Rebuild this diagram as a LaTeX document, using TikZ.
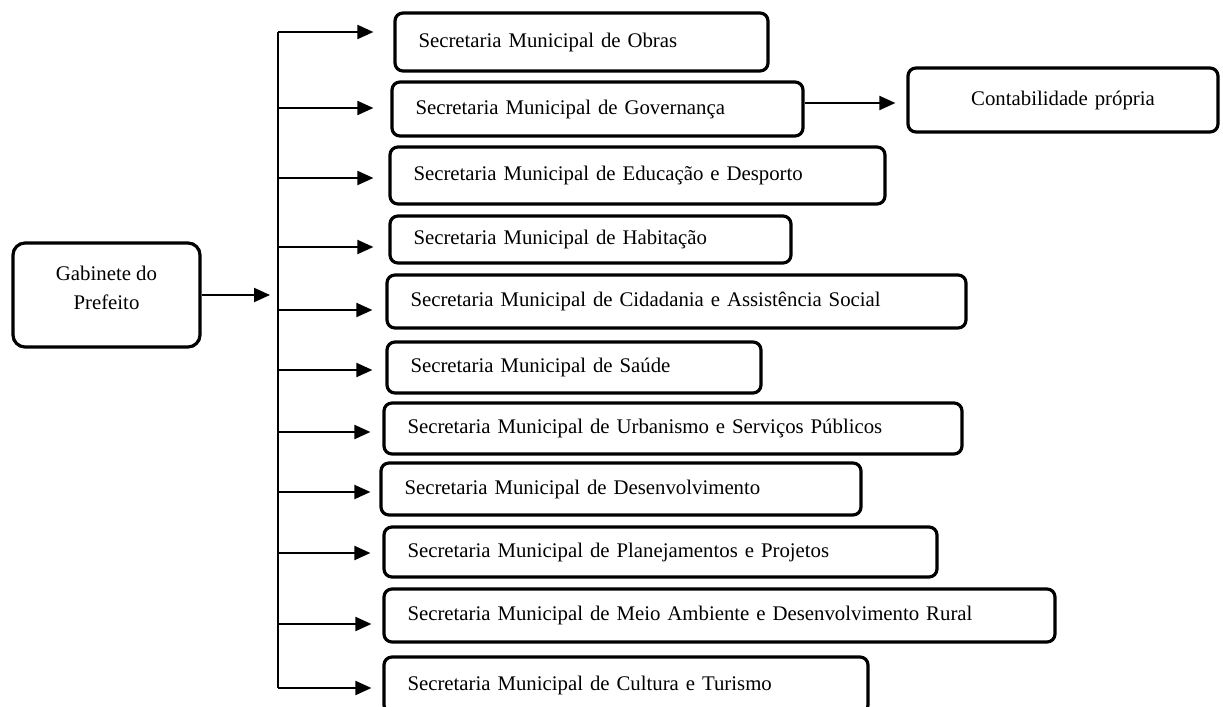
\documentclass[tikz,border=0pt]{standalone}
\usepackage{fontspec}
\setmainfont{Liberation Serif}
\usetikzlibrary{arrows.meta}
\tikzset{
  sec/.style={draw, rounded corners=4pt, line width=1.6pt, inner xsep=11.75pt, inner ysep=0pt, align=left},
  arr/.style={line width=1pt, -{Triangle[length=8pt,width=7pt]}}
}
\begin{document}
\begin{tikzpicture}[x=0.5pt,y=-0.5pt,font=\fontsize{10.4}{14.5}\selectfont]
		\useasboundingbox (0,0) rectangle (1223,707);
		\node[draw, rounded corners=6pt, line width=1.6pt, align=center, minimum width=93.5pt, minimum height=52pt] (gab) at (106.5,295) {Gabinete do\\Prefeito\\[-7pt]};
		\node[sec, text width=163pt, minimum height=29pt] (obras) at (581.5,42) {Secretaria Municipal de Obras};
		\node[sec, text width=182pt, minimum height=27pt] (gov) at (597.5,109) {Secretaria Municipal de Governança};
		\node[sec, align=center, text width=131.5pt, minimum height=32pt] (cont) at (1063,100) {Contabilidade própria\\[-2pt]};
		\node[sec, text width=224pt, minimum height=28.5pt] (edu) at (637.5,175.5) {Secretaria Municipal de Educação e Desporto};
		\node[sec, text width=177pt, minimum height=23.5pt] (hab) at (590.5,239.5) {Secretaria Municipal de Habitação};
		\node[sec, text width=266pt, minimum height=26.5pt] (cid) at (676.5,301.5) {Secretaria Municipal de Cidadania e Assistência Social};
		\node[sec, text width=163.5pt, minimum height=25.5pt] (sau) at (574,367.5) {Secretaria Municipal de Saúde\\[-3pt]};
		\node[sec, text width=265.5pt, minimum height=25.5pt] (urb) at (673,428.5) {Secretaria Municipal de Urbanismo e Serviços Públicos};
		\node[sec, text width=216.5pt, minimum height=26pt] (des) at (621,489) {Secretaria Municipal de Desenvolvimento};
		\node[sec, text width=253pt, minimum height=25pt] (pla) at (660.5,552) {Secretaria Municipal de Planejamentos e Projetos};
		\node[sec, text width=312pt, minimum height=26.5pt] (mei) at (719.5,615.5) {Secretaria Municipal de Meio Ambiente e Desenvolvimento Rural};
		\node[sec, text width=218.5pt, minimum height=28pt] (cul) at (626,685) {Secretaria Municipal de Cultura e Turismo};
		% tronco vertical
		\coordinate (t1) at (278,32);
		\coordinate (t2) at (278,108);
		\coordinate (t3) at (278,178);
		\coordinate (t4) at (278,247);
		\coordinate (t5) at (278,310);
		\coordinate (t6) at (278,370);
		\coordinate (t7) at (278,432);
		\coordinate (t8) at (278,492);
		\coordinate (t9) at (278,553);
		\coordinate (t10) at (278,624);
		\coordinate (t11) at (278,688);
		\draw[line width=0.8pt] (t1)--(t11);
		\draw[arr, shorten >=4pt] (gab.east)--(gab.east -| t1);
		\draw[arr, shorten >=10pt] (t1)--(t1 -| obras.west);
		\draw[arr, shorten >=8.5pt] (t2)--(t2 -| gov.west);
		\draw[arr, shorten >=7.5pt] (t3)--(t3 -| edu.west);
		\draw[arr, shorten >=7.5pt] (t4)--(t4 -| hab.west);
		\draw[arr, shorten >=6.5pt] (t5)--(t5 -| cid.west);
		\draw[arr, shorten >=6.5pt] (t6)--(t6 -| sau.west);
		\draw[arr, shorten >=6pt] (t7)--(t7 -| urb.west);
		\draw[arr, shorten >=4.5pt] (t8)--(t8 -| des.west);
		\draw[arr, shorten >=6pt] (t9)--(t9 -| pla.west);
		\draw[arr, shorten >=5.5pt] (t10)--(t10 -| mei.west);
		\draw[arr, shorten >=5.5pt] (t11)--(t11 -| cul.west);
		\draw[arr, shorten >=5.5pt] ([yshift=3pt]gov.east)--([yshift=3pt]gov.east -| cont.west);
		\end{tikzpicture}
\end{document}
